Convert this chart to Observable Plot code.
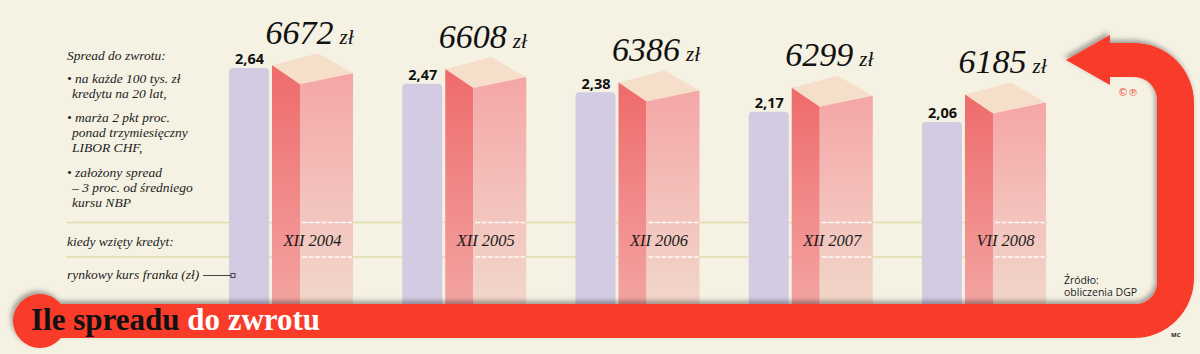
<!DOCTYPE html>
<html>
<head>
<meta charset="utf-8">
<script src="https://cdn.jsdelivr.net/npm/d3@7"></script>
<script src="https://cdn.jsdelivr.net/npm/@observablehq/plot@0.6"></script>
<style>
  html, body { margin: 0; padding: 0; background: #f5f2e4; }
  #wrap { position: relative; width: 1200px; height: 354px; background: #f5f2e4; overflow: hidden; }
  #wrap > * { position: absolute; left: 0; top: 0; }
  .note { font-family: "Liberation Serif", "DejaVu Serif", serif; font-style: italic; font-size: 13.5px; fill: #222; }
</style>
</head>
<body>
<div id="wrap">
  <svg id="back" width="1200" height="354"></svg>
  <div id="plotA"></div>
  <div id="plotB"></div>
  <svg id="front" width="1200" height="354"></svg>
</div>
<script>
// ---- data ----
const periods = ["XII 2004", "XII 2005", "XII 2006", "XII 2007", "VII 2008"];
const marketRate = [2.64, 2.47, 2.38, 2.17, 2.06];       // rynkowy kurs franka (zł)
const spreadRefund = [6672, 6608, 6386, 6299, 6185];      // spread do zwrotu (zł)
const noteLines = [
  "Spread do zwrotu:",
  "• na każde 100 tys. zł", "kredytu na 20 lat,",
  "• marża 2 pkt proc.", "ponad trzymiesięczny", "LIBOR CHF,",
  "• założony spread", "– 3 proc. od średniego", "kursu NBP"
];
const rowLabels = ["kiedy wzięty kredyt:", "rynkowy kurs franka (zł)"];
const titleDark = "Ile spreadu ";
const titleLight = "do zwrotu";
const sourceLines = ["Źródło:", "obliczenia DGP"];

const rows = periods.map((k, i) => ({k, rate: marketRate[i], refund: spreadRefund[i]}));
const fmtRate = v => d3.format(".2f")(v).replace(".", ",");

// ---- shared layout ----
const W = 1200, H = 354, MB = 40.5;
const xScale = {type: "band", domain: periods, range: [229, 1046], paddingInner: 0.284, paddingOuter: 0, round: false, axis: null};
const boxBase = 2857;
const serif = "'Liberation Serif', 'DejaVu Serif', serif";

// ---- back decoration: guide lines + notes ----
const back = d3.select("#back");
for (const yy of [222.5, 257]) {
  back.append("line").attr("x1", 67).attr("x2", 1047).attr("y1", yy).attr("y2", yy)
    .attr("stroke", "#e2dba8").attr("stroke-width", 1.6);
}
const noteX = [67, 67, 72, 67, 72, 72, 67, 72, 72];
const noteY = [60, 83, 98, 122, 137, 152, 177, 192, 207];
noteLines.forEach((t, i) => back.append("text").attr("class", "note").attr("x", noteX[i]).attr("y", noteY[i]).text(t));
back.append("text").attr("class", "note").attr("x", 67).attr("y", 246).text(rowLabels[0]);
back.append("text").attr("class", "note").attr("x", 67).attr("y", 279).text(rowLabels[1]);

// ---- Plot A: market rate bars ----
const plotA = Plot.plot({
  width: W, height: H,
  marginTop: 0, marginBottom: MB, marginLeft: 0, marginRight: 0,
  style: {background: "transparent", overflow: "visible"},
  x: xScale,
  y: {domain: [0, 3.371], axis: null},
  marks: [
    Plot.barY(rows, {x: "k", y: "rate", fill: "#d3cbe2", insetRight: 84, rx: 4}),
    Plot.text(rows, {x: "k", y: "rate", text: d => fmtRate(d.rate), dx: -42, dy: -4,
      lineAnchor: "bottom", fontFamily: "Open Sans", fontWeight: 700, fontSize: 14.5, fill: "#111"})
  ]
});
document.getElementById("plotA").appendChild(plotA);

// ---- Plot B: 3D boxes of spread refund ----
const defs = () => {
  const d = d3.create("svg:defs");
  const g1 = d.append("linearGradient").attr("id", "gLeft").attr("x1", 0).attr("x2", 0).attr("y1", 0).attr("y2", 1);
  g1.append("stop").attr("offset", "0%").attr("stop-color", "#ee6b6b");
  g1.append("stop").attr("offset", "100%").attr("stop-color", "#f3a6a4");
  const g2 = d.append("linearGradient").attr("id", "gRight").attr("x1", 0).attr("x2", 0).attr("y1", 0).attr("y2", 1);
  g2.append("stop").attr("offset", "0%").attr("stop-color", "#f5a6a6");
  g2.append("stop").attr("offset", "55%").attr("stop-color", "#f3c3bd");
  g2.append("stop").attr("offset", "100%").attr("stop-color", "#f1d8ca");
  return d.node();
};
const tops = (index, scales) => {
  const g = d3.create("svg:g");
  rows.forEach(d => {
    const x0 = scales.x(d.k);
    const f = scales.y(d.refund);
    g.append("polygon")
      .attr("points", [[x0 + 43, f - 19], [x0 + 89, f - 31], [x0 + 124, f - 11], [x0 + 71, f]].map(p => p.join(",")).join(" "))
      .attr("fill", "#f5dfca");
    for (const yy of [222.5, 257]) {
      g.append("line").attr("x1", x0 + 73).attr("x2", x0 + 123).attr("y1", yy).attr("y2", yy)
        .attr("stroke", "#ffffff").attr("stroke-width", 1.3).attr("stroke-dasharray", "5 1.5").attr("opacity", 0.9);
    }
  });
  return g.node();
};
const plotB = Plot.plot({
  width: W, height: H,
  marginTop: 0, marginBottom: MB, marginLeft: 0, marginRight: 0,
  style: {background: "transparent", overflow: "visible"},
  x: xScale,
  y: {domain: [boxBase, 8074], axis: null},
  marks: [
    defs,
    Plot.barY(rows, {x: "k", y1: boxBase, y2: "refund", fill: "url(#gLeft)", insetLeft: 43, insetRight: 53, insetTop: -19}),
    Plot.barY(rows, {x: "k", y1: boxBase, y2: "refund", fill: "url(#gRight)", insetLeft: 71, insetRight: 0, insetTop: -11}),
    tops,
    Plot.text(rows, {x: "k", text: "k", frameAnchor: "bottom", lineAnchor: "bottom", dy: -68, dx: 21,
      fontFamily: serif, fontStyle: "italic", fontSize: 16.5, fill: "#1c1c1c"}),
    Plot.text(rows, {x: "k", y: "refund", text: d => String(d.refund), dx: 42, dy: -41, textAnchor: "end",
      lineAnchor: "bottom", fontFamily: serif, fontStyle: "italic", fontSize: 34, fill: "#111"}),
    Plot.text(rows, {x: "k", y: "refund", text: () => "zł", dx: 48, dy: -41, textAnchor: "start",
      lineAnchor: "bottom", fontFamily: serif, fontStyle: "italic", fontSize: 21, fill: "#111"})
  ]
});
document.getElementById("plotB").appendChild(plotB);

// ---- front decoration: red arrow band, title, sources ----
const front = d3.select("#front");
const fd = front.append("defs");
const flt = fd.append("filter").attr("id", "shadow").attr("x", "-10%").attr("y", "-20%").attr("width", "120%").attr("height", "140%");
flt.append("feDropShadow").attr("dx", -2).attr("dy", -3).attr("stdDeviation", 2.5).attr("flood-color", "#000").attr("flood-opacity", 0.35);
const red = "#f93a29";
const rg = front.append("g").attr("filter", "url(#shadow)");
rg.append("path").attr("fill", red).attr("d",
  "M 40,304 H 1136 A 21 21 0 0 0 1157 283 V 100 A 23 23 0 0 0 1134 77 H 1110 V 85 L 1066 60 L 1110 35 V 43 H 1134 A 60 60 0 0 1 1194 103 V 278 A 60 60 0 0 1 1134 338 H 40 Z");
rg.append("circle").attr("cx", 40).attr("cy", 321).attr("r", 27).attr("fill", red);
const tt = front.append("text").attr("x", 31).attr("y", 330)
  .attr("font-family", serif).attr("font-weight", 700).attr("font-size", 31);
tt.append("tspan").attr("fill", "#111").text(titleDark);
tt.append("tspan").attr("fill", "#fff").text(titleLight);

// pointer from row label to bar
front.append("line").attr("x1", 203).attr("x2", 231).attr("y1", 275.5).attr("y2", 275.5).attr("stroke", "#444").attr("stroke-width", 1);
front.append("rect").attr("x", 231).attr("y", 273.5).attr("width", 4).attr("height", 4).attr("fill", "none").attr("stroke", "#444").attr("stroke-width", 1);

sourceLines.forEach((t, i) => front.append("text").attr("x", 1064).attr("y", 284 + i * 12)
  .attr("font-family", "Open Sans, sans-serif").attr("font-size", 10.5).attr("fill", "#222").text(t));
front.append("text").attr("x", 1171).attr("y", 337).attr("font-family", "Open Sans, sans-serif")
  .attr("font-weight", 700).attr("font-size", 6).attr("fill", "#222").text("MC");
front.append("text").attr("x", 1118).attr("y", 96).attr("font-family", "DejaVu Sans, sans-serif")
  .attr("font-size", 10).attr("fill", "#f04a3a").text("©℗");
</script>
</body>
</html>
